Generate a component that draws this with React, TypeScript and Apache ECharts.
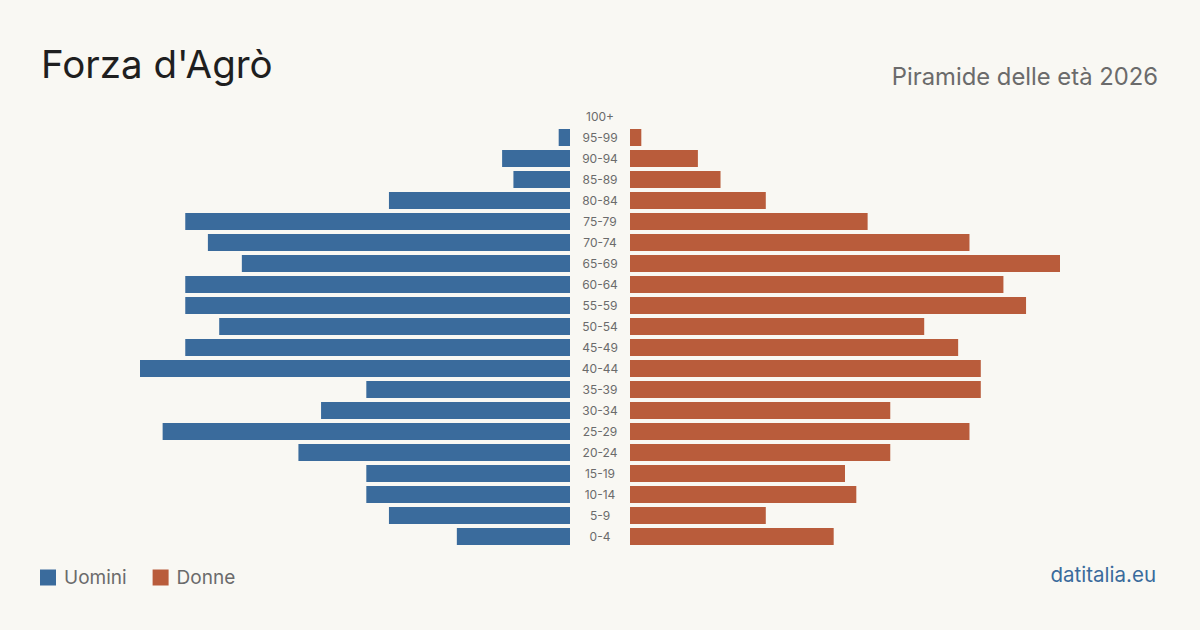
import React, { useEffect, useRef } from "react";
import * as echarts from "echarts";

const ageGroups = [
  "0-4", "5-9", "10-14", "15-19", "20-24", "25-29", "30-34", "35-39", "40-44", "45-49",
  "50-54", "55-59", "60-64", "65-69", "70-74", "75-79", "80-84", "85-89", "90-94", "95-99", "100+",
];
const men = [10, 16, 18, 18, 24, 36, 22, 18, 38, 34, 31, 34, 34, 29, 32, 34, 16, 5, 6, 1, 0];
const women = [18, 12, 20, 19, 23, 30, 23, 31, 31, 29, 26, 35, 33, 38, 30, 21, 12, 8, 6, 1, 0];

const BLUE = "#3a6b9c";
const ORANGE = "#b95c3b";
const FONT = "Inter, 'Noto Sans', sans-serif";
const X_MAX = 38;

export default function App() {
  const ref = useRef<HTMLDivElement>(null);

  useEffect(() => {
    if (!ref.current) return;
    const chart = echarts.init(ref.current, null, { renderer: "svg" });
    const top = 106;
    const height = 441;
    chart.setOption({
      animation: false,
      backgroundColor: "#f9f8f3",
      textStyle: { fontFamily: FONT },
      title: [
        {
          text: "Forza d'Agrò",
          left: 41,
          top: 44,
          padding: 0,
          textStyle: { fontSize: 38.5, fontWeight: "normal", color: "#1f1f1f", fontFamily: FONT },
        },
        {
          text: "Piramide delle età 2026",
          right: 42,
          top: 64,
          padding: 0,
          textStyle: { fontSize: 23.8, fontWeight: "normal", color: "#6b6b6b", fontFamily: FONT },
        },
        {
          text: "datitalia.eu",
          right: 44,
          top: 564,
          padding: 0,
          textStyle: { fontSize: 20.5, fontWeight: "normal", color: BLUE, fontFamily: FONT },
        },
      ],
      legend: {
        left: 40,
        top: 568,
        padding: 0,
        itemWidth: 16,
        itemHeight: 16,
        itemGap: 26,
        icon: "rect",
        textStyle: { fontSize: 19, color: "#6b6b6b", fontFamily: FONT, padding: [0, 0, 0, 3] },
        data: ["Uomini", "Donne"],
      },
      grid: [
        { left: 140, width: 430, top, height },
        { left: 630, width: 430, top, height },
        { left: 570, width: 60, top, height },
      ],
      xAxis: [
        { gridIndex: 0, type: "value", min: 0, max: X_MAX, inverse: true, show: false },
        { gridIndex: 1, type: "value", min: 0, max: X_MAX, show: false },
        { gridIndex: 2, type: "value", min: 0, max: 1, show: false },
      ],
      yAxis: [
        { gridIndex: 0, type: "category", data: ageGroups, show: false },
        { gridIndex: 1, type: "category", data: ageGroups, show: false },
        {
          gridIndex: 2,
          type: "category",
          data: ageGroups,
          axisLine: { show: false },
          axisTick: { show: false },
          axisLabel: {
            align: "center",
            margin: -30,
            fontSize: 12,
            color: "#6b6b6b",
            fontFamily: FONT,
          },
        },
      ],
      series: [
        {
          name: "Uomini",
          type: "bar",
          xAxisIndex: 0,
          yAxisIndex: 0,
          data: men,
          barWidth: 17,
          itemStyle: { color: BLUE },
        },
        {
          name: "Donne",
          type: "bar",
          xAxisIndex: 1,
          yAxisIndex: 1,
          data: women,
          barWidth: 17,
          itemStyle: { color: ORANGE },
        },
      ],
    });
    return () => chart.dispose();
  }, []);

  return <div ref={ref} style={{ width: 1200, height: 630, position: "absolute", left: 0, top: 0 }} />;
}
